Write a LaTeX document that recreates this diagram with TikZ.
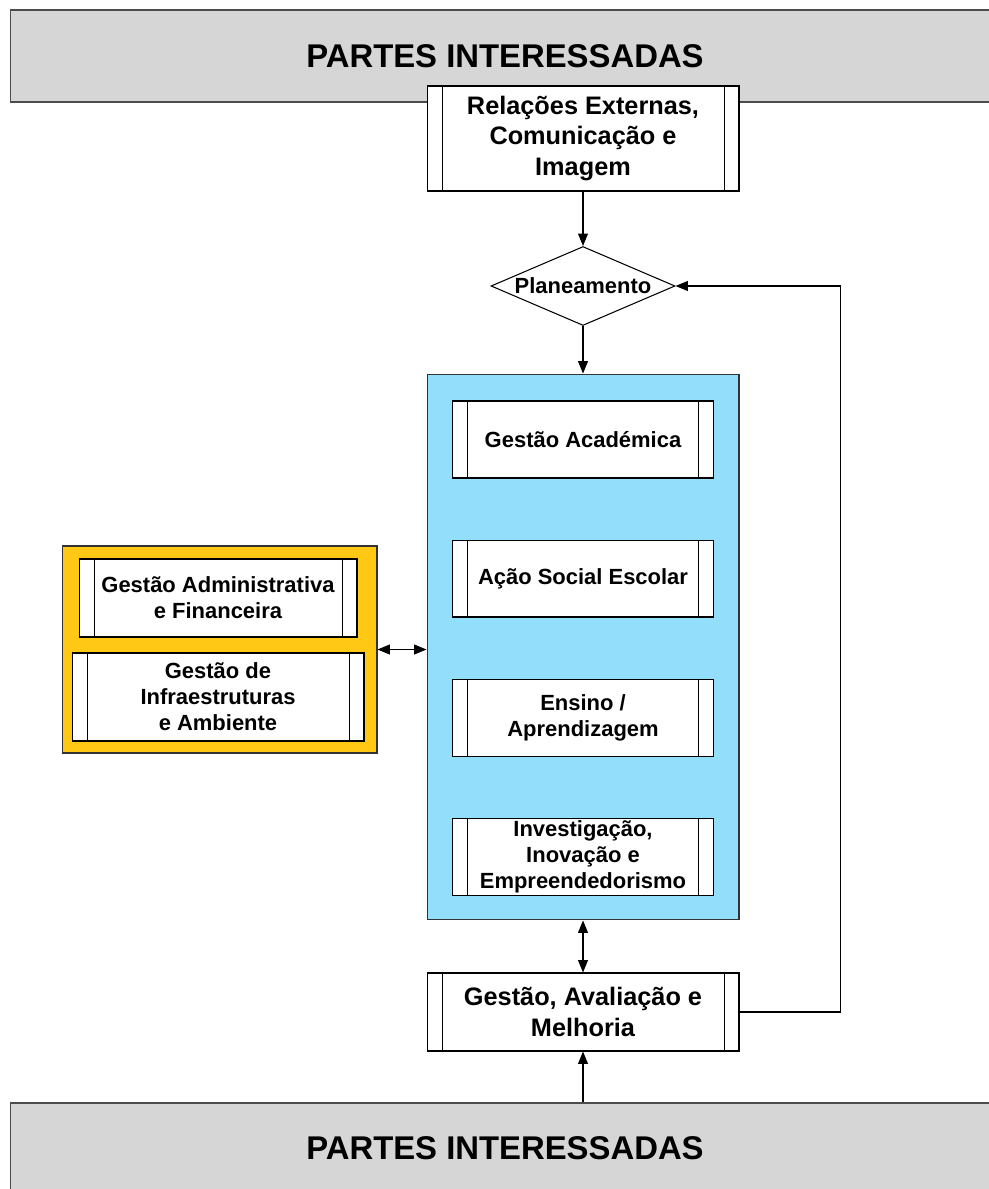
\documentclass[tikz,border=0pt]{standalone}
\usepackage{fontspec}
\setmainfont{Liberation Sans}
\usetikzlibrary{shapes.geometric}
\usetikzlibrary{positioning}
\usetikzlibrary{arrows.meta}
\definecolor{hdrgray}{RGB}{214,214,214}
\definecolor{coreblue}{RGB}{147,222,250}
\definecolor{suppyellow}{RGB}{255,200,20}
\newcommand{\bigtxt}{\fontsize{14.4}{17.4}\selectfont\bfseries}
\newcommand{\smalltxt}{\fontsize{12.5}{14.8}\selectfont\bfseries}

\begin{document}
\begin{tikzpicture}[x=0.02cm,y=-0.02cm,line width=0.6pt,
  >={Triangle[length=7pt,width=5.6pt]},
  node distance=1.22cm,
  hdr/.style={draw=black!70,fill=hdrgray,minimum width=19.8cm,minimum height=1.84cm,
    font=\fontsize{18.7}{22}\selectfont\bfseries},
  proc/.style={draw,fill=white,align=center,inner sep=0pt,
    path picture={
      \draw[line width=0.5pt] ([xshift=0.3cm]path picture bounding box.north west) -- ([xshift=0.3cm]path picture bounding box.south west);
      \draw[line width=0.5pt] ([xshift=-0.3cm]path picture bounding box.north east) -- ([xshift=-0.3cm]path picture bounding box.south east);}},
  inproc/.style={proc,minimum width=5.22cm,minimum height=1.54cm,font=\smalltxt}]
\useasboundingbox (0,0) rectangle (988,1189);
% partes interessadas
\node (top) [hdr] at (505,56) {PARTES INTERESSADAS};
\node (bot) [hdr,minimum height=1.8cm] at (505,1148) {PARTES INTERESSADAS};
% topo
\node (rel) [proc,minimum width=6.24cm,minimum height=2.1cm,font=\bigtxt] at (583,138.5)
  {Relações Externas,\\Comunicação e\\Imagem};
\node (plan) [draw,fill=white,diamond,aspect=2.33,minimum width=3.68cm,minimum height=1.58cm,inner sep=0pt,
  font=\smalltxt] at (583,286) {Planeamento};
% processos nucleares
\node (core) [draw=black!80,fill=coreblue,minimum width=6.24cm,minimum height=10.92cm] at (583,647) {};
\node (acad) [inproc] at (583,439.5) {Gestão Académica};
\node (social) [inproc,below=of acad] {Ação Social Escolar};
\node (ensino) [inproc,below=of social] {Ensino /\\Aprendizagem};
\node (invest) [inproc,below=of ensino] {Investigação,\\Inovação e\\Empreendedorismo};
% processos de suporte
\node (supp) [draw=black!80,fill=suppyellow,minimum width=6.3cm,minimum height=4.14cm] at (219.5,649.5) {};
\node (admin) [proc,minimum width=5.56cm,minimum height=1.56cm,font=\smalltxt] at (218,598)
  {Gestão Administrativa\\e Financeira};
\node (infra) [proc,minimum width=5.84cm,minimum height=1.76cm,font=\smalltxt] at (218,697)
  {Gestão de\\Infraestruturas\\e Ambiente};
% melhoria
\node (gam) [proc,minimum width=6.24cm,minimum height=1.56cm,font=\bigtxt] at (583,1012)
  {Gestão, Avaliação e\\Melhoria};
% ligacoes
\draw[->] (rel) -- (plan);
\draw[->] (plan) -- (core);
\draw[<->] (supp) -- (supp -| core.west);
\draw[<->] (core) -- (gam);
\draw[->] (bot.north -| gam) -- (gam);
\draw[->] (gam.east) -- ++(101,0) |- (plan.east);
\end{tikzpicture}
\end{document}
